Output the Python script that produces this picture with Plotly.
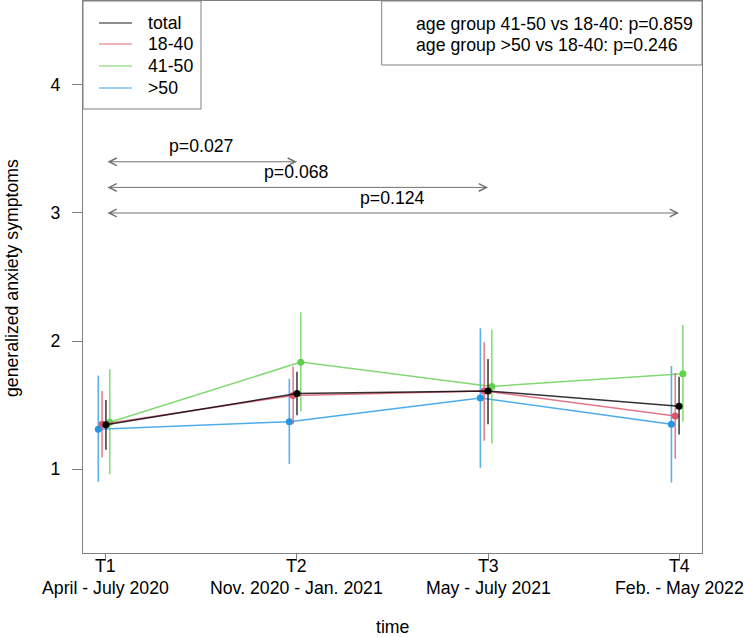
import plotly.graph_objects as go

# ---- data ----
times = ["T1", "T2", "T3", "T4"]
periods = ["April - July 2020", "Nov. 2020 - Jan. 2021", "May - July 2021", "Feb. - May 2022"]
time_pos = [1, 2, 3, 4]

groups = ["total", "18-40", "41-50", ">50"]
group_colors = ["#000000", "#DF536B", "#61D04F", "#2297E6"]
group_offsets = [0.0, -0.02, 0.02, -0.04]

total_mean = [1.345, 1.59, 1.61, 1.49]
total_lo = [1.15, 1.42, 1.35, 1.27]
total_hi = [1.54, 1.76, 1.86, 1.72]

g1840_mean = [1.35, 1.575, 1.61, 1.415]
g1840_lo = [1.09, 1.35, 1.22, 1.08]
g1840_hi = [1.61, 1.80, 1.99, 1.75]

g4150_mean = [1.365, 1.835, 1.645, 1.745]
g4150_lo = [0.96, 1.45, 1.20, 1.37]
g4150_hi = [1.78, 2.225, 2.09, 2.125]

g50_mean = [1.31, 1.37, 1.555, 1.35]
g50_lo = [0.90, 1.04, 1.01, 0.895]
g50_hi = [1.73, 1.705, 2.10, 1.805]

means = [total_mean, g1840_mean, g4150_mean, g50_mean]
los = [total_lo, g1840_lo, g4150_lo, g50_lo]
his = [total_hi, g1840_hi, g4150_hi, g50_hi]

comp_from = [1, 1, 1]
comp_to = [2, 3, 4]
comp_y = [3.4, 3.2, 3.0]
comp_p = ["p=0.027", "p=0.068", "p=0.124"]

stats_lines = ["age group 41-50 vs 18-40: p=0.859", "age group >50 vs 18-40: p=0.246"]

y_label = "generalized anxiety symptoms"
x_label = "time"


def rgba(hexc, a):
    h = hexc.lstrip("#")
    r, g, b = int(h[0:2], 16), int(h[2:4], 16), int(h[4:6], 16)
    return f"rgba({r},{g},{b},{a})"


FONT = "Liberation Sans, Arial, Helvetica, sans-serif"
FS = 17.7
AXC = "#808080"

fig = go.Figure()

draw_order = [3, 2, 1, 0]
for i in draw_order:
    xs = [t + group_offsets[i] for t in time_pos]
    m = means[i]
    up = [h - v for h, v in zip(his[i], m)]
    dn = [v - l for v, l in zip(m, los[i])]
    fig.add_trace(go.Scatter(
        x=xs, y=m, mode="lines+markers", name=groups[i], showlegend=False,
        line=dict(color=rgba(group_colors[i], 0.8), width=1.5),
        marker=dict(color=group_colors[i], size=7),
        error_y=dict(type="data", symmetric=False, array=up, arrayminus=dn,
                     width=0, thickness=1.6, color=rgba(group_colors[i], 0.75)),
    ))

W, H = 744, 637
L, R, T, B = 83, 42, 1, 84
pw, ph = W - L - R, H - T - B


def px(xp):
    return (xp - L) / pw


def py(yp):
    return (H - B - yp) / ph


annotations = []
shapes = []

# x tick labels (two lines)
for t, lab, per in zip(time_pos, times, periods):
    annotations.append(dict(x=t, y=0, xref="x", yref="paper", text=lab, showarrow=False,
                            yanchor="middle", yshift=-13, font=dict(size=FS)))
    annotations.append(dict(x=t, y=0, xref="x", yref="paper", text=per, showarrow=False,
                            yanchor="middle", yshift=-35, font=dict(size=FS)))

# axis titles
annotations.append(dict(x=px(12), y=py(278), xref="paper", yref="paper", text=y_label,
                        textangle=-90, showarrow=False, xanchor="center", yanchor="middle",
                        font=dict(size=FS)))
annotations.append(dict(x=0.5, y=py(627), xref="paper", yref="paper", text=x_label,
                        showarrow=False, xanchor="center", yanchor="middle", font=dict(size=FS)))

# comparison arrows
for a, b, yv, p in zip(comp_from, comp_to, comp_y, comp_p):
    annotations.append(dict(x=b, y=yv, ax=a, ay=yv, xref="x", yref="y", axref="x", ayref="y",
                            text="", showarrow=True, arrowhead=5, startarrowhead=5,
                            arrowside="end+start", arrowsize=1.5, startarrowsize=1.5,
                            arrowwidth=1, arrowcolor="#707070", standoff=0, startstandoff=0))
    annotations.append(dict(x=(a + b) / 2, y=yv + 0.12, xref="x", yref="y", text=p,
                            showarrow=False, xanchor="center", yanchor="middle",
                            font=dict(size=FS)))

# legend box
shapes.append(dict(type="rect", xref="paper", yref="paper", x0=0, x1=px(201), y0=py(109), y1=1,
                   line=dict(color=AXC, width=1), fillcolor="white", layer="above"))
leg_rows = [23, 44, 66, 88]
for i, g in enumerate(groups):
    yy = py(leg_rows[i])
    shapes.append(dict(type="line", xref="paper", yref="paper", x0=px(99), x1=px(132), y0=yy, y1=yy,
                       line=dict(color=rgba(group_colors[i], 0.6), width=1.5), layer="above"))
    annotations.append(dict(x=px(146), y=yy, xref="paper", yref="paper", text=g, showarrow=False,
                            xanchor="left", yanchor="middle", font=dict(size=FS)))

# stats box
shapes.append(dict(type="rect", xref="paper", yref="paper", x0=px(381.7), x1=1, y0=py(65), y1=1,
                   line=dict(color=AXC, width=1), fillcolor="white", layer="above"))
for j, s in enumerate(stats_lines):
    annotations.append(dict(x=px(414), y=py([24, 45][j]), xref="paper", yref="paper", text=s,
                            showarrow=False, xanchor="left", yanchor="middle", font=dict(size=FS)))

fig.update_layout(
    width=W, height=H,
    margin=dict(l=L, r=R, t=T, b=B, autoexpand=False),
    paper_bgcolor="white", plot_bgcolor="white",
    font=dict(family=FONT, size=FS, color="black"),
    showlegend=False,
    annotations=annotations, shapes=shapes,
    xaxis=dict(range=[0.88, 4.12], tickvals=time_pos, showticklabels=False, ticks="outside",
               ticklen=7, tickcolor=AXC, showline=True, mirror=True, linecolor=AXC, linewidth=1,
               showgrid=False, zeroline=False),
    yaxis=dict(range=[0.344, 4.656], tickvals=[1, 2, 3, 4], ticks="outside", ticklen=10,
               tickcolor=AXC, showline=True, mirror=True, linecolor=AXC, linewidth=1,
               showgrid=False, zeroline=False, tickfont=dict(size=FS), ticklabelstandoff=8),
)

fig.write_html("out.html", config={"displayModeBar": False},
               post_script="document.body.style.margin='0';document.body.style.overflow='hidden';")
